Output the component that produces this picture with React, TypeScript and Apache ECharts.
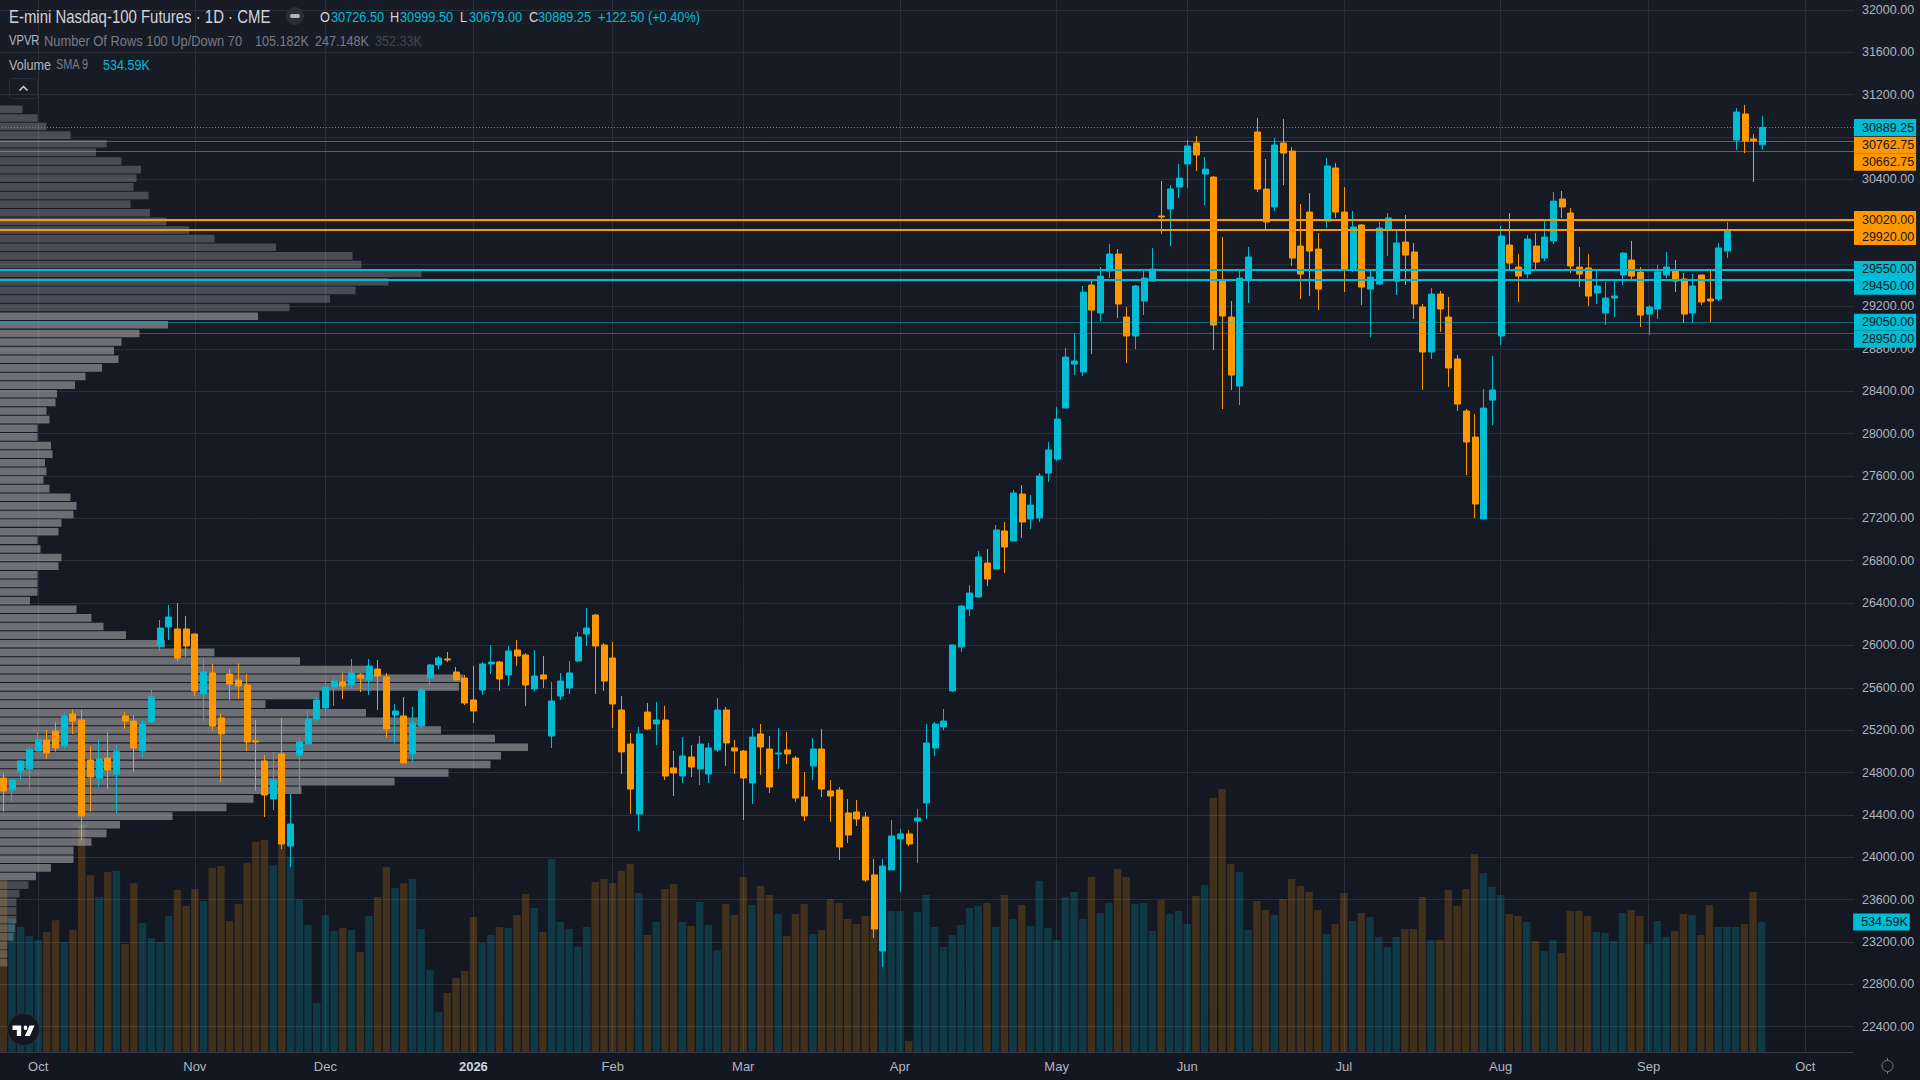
import * as echarts from 'echarts';
import { useEffect, useRef } from 'react';

const UP = '#00BCD4';
const DOWN = '#FF9800';
const TEXT = '#B2B5BE';
const GRID = '#2A2E39';
const FONT = '"Liberation Sans", sans-serif';
const AXIS_FONT_SIZE = 12.5;

const opens = [
  24748, 24635, 24814, 24833, 25003, 25107, 25192, 25050, 25352, 25296,
  24918, 24748, 24937, 24786, 25334, 25286, 25003, 25277, 25994, 26174,
  26155, 26155, 26108, 25541, 25740, 25315, 25730, 25673, 25626, 25098,
  24909, 24550, 24975, 24106, 24965, 25069, 25305, 25409, 25607, 25655,
  25626, 25721, 25673, 25777, 25702, 25343, 25334, 24975, 25239, 25692,
  25815, 25872, 25749, 25692, 25485, 25579, 25825, 25843, 25721, 25957,
  25910, 25589, 25721, 25145, 25522, 25598, 25853, 26108, 26287, 26004,
  25881, 25390, 25069, 24408, 25371, 25258, 25296, 24843, 24767, 24947,
  24833, 24786, 25013, 25390, 25032, 25003, 24701, 25164, 25022, 24975,
  25013, 24937, 24569, 24862, 25022, 24626, 24635, 24418, 24427, 24380,
  23833, 23115, 23880, 24172, 24220, 24342, 24512, 25031, 25230, 25570,
  25985, 26344, 26457, 26778, 26721, 27080, 26985, 27429, 27193, 27203,
  27627, 27759, 28241, 28656, 28581, 29402, 29138, 29534, 29695, 29100,
  28921, 29251, 29440, 30054, 30120, 30327, 30545, 30743, 30450, 30422,
  29440, 29100, 28449, 29459, 30847, 30308, 30139, 30743, 30667, 29770,
  30091, 29742, 30006, 30507, 30091, 29553, 29969, 29364, 29412, 29931,
  29440, 29808, 29714, 29194, 28770, 29317, 29100, 28704, 28213, 27967,
  27193, 28316, 28921, 29780, 29572, 29506, 29770, 29657, 29818, 30214,
  30082, 29572, 29563, 29327, 29138, 29279, 29497, 29638, 29525, 29128,
  29176, 29497, 29534, 29459, 29138, 29497, 29270, 29270, 29723, 30771,
  31017, 30781, 30726.5
];

const closes = [
  24625, 24729, 24909, 25019, 25113, 24984, 25031, 25334, 25286, 24390,
  24758, 24928, 24824, 24997, 25286, 25031, 25258, 25513, 26164, 26268,
  25881, 25994, 25570, 25749, 25239, 25164, 25636, 25617, 25088, 25088,
  24588, 24729, 24125, 24314, 25088, 25305, 25485, 25607, 25664, 25617,
  25740, 25692, 25806, 25711, 25211, 25381, 24890, 25268, 25579, 25815,
  25881, 25862, 25673, 25456, 25381, 25825, 25843, 25683, 25947, 25900,
  25626, 25711, 25683, 25475, 25664, 25740, 26079, 26164, 25994, 25664,
  25447, 24994, 24644, 25164, 25211, 25296, 24767, 24795, 24956, 24852,
  25069, 25032, 25390, 25079, 25003, 24748, 25135, 25041, 24663, 24984,
  24975, 24559, 24390, 25022, 24644, 24578, 24097, 24210, 24361, 23785,
  23323, 23917, 24201, 24220, 24125, 24371, 25079, 25258, 25286, 26004,
  26372, 26495, 26835, 26627, 27090, 26929, 27439, 27165, 27325, 27599,
  27845, 28137, 28722, 28685, 29336, 29166, 29487, 29695, 29223, 28921,
  29393, 29468, 29553, 30044, 30309, 30412, 30715, 30630, 30497, 29025,
  29110, 28552, 29468, 29667, 30308, 29997, 30724, 30648, 29657, 29506,
  29723, 29364, 30526, 30091, 29553, 29950, 29383, 29478, 29940, 30035,
  29799, 29685, 29223, 28770, 29317, 29176, 28619, 28279, 27920, 27335,
  28241, 28411, 29865, 29610, 29487, 29837, 29619, 29855, 30195, 30139,
  29582, 29506, 29298, 29393, 29279, 29298, 29704, 29487, 29119, 29194,
  29525, 29572, 29440, 29128, 29393, 29242, 29251, 29752, 29921, 31035,
  30762, 30762.5, 30889.25
];

const lows = [
  24430, 24525, 24729, 24635, 24997, 24928, 24997, 25031, 25164, 24163,
  24430, 24666, 24644, 24415, 25211, 24805, 24937, 25277, 25947, 26051,
  25853, 25891, 25522, 25286, 25201, 24710, 25485, 25494, 25003, 24625,
  24380, 24446, 24078, 23908, 24607, 25069, 25286, 25334, 25428, 25494,
  25589, 25560, 25532, 25390, 25126, 25075, 24890, 24909, 25211, 25617,
  25777, 25843, 25673, 25437, 25268, 25532, 25730, 25570, 25617, 25806,
  25428, 25570, 25598, 25032, 25485, 25541, 25843, 25994, 25541, 25570,
  25220, 24786, 24408, 24248, 25201, 25060, 24729, 24578, 24701, 24758,
  24682, 24701, 24994, 24862, 24786, 24352, 24503, 24777, 24607, 24833,
  24880, 24522, 24342, 24729, 24569, 24333, 23974, 24135, 24295, 23766,
  23238, 22964, 23880, 23672, 24106, 23946, 24361, 24956, 25201, 25560,
  25938, 26278, 26448, 26561, 26721, 26684, 26985, 27014, 27099, 27165,
  27542, 27741, 28241, 28552, 28543, 28751, 29062, 29468, 29091, 28666,
  28798, 29119, 29440, 29884, 29770, 30224, 30318, 30478, 30157, 28789,
  28231, 28411, 28269, 29232, 30280, 29921, 30101, 30346, 29582, 29270,
  29298, 29166, 29940, 30035, 29336, 29525, 29213, 28911, 29402, 29676,
  29308, 29402, 29081, 28411, 28704, 28959, 28439, 28213, 27608, 27202,
  27193, 28080, 28836, 29534, 29242, 29468, 29534, 29629, 29789, 30035,
  29515, 29383, 29204, 29223, 29025, 29100, 29402, 29440, 29006, 28930,
  29081, 29468, 29336, 29043, 29043, 29213, 29053, 29251, 29657, 30677,
  30648, 30375, 30679
];

const highs = [
  24792, 24745, 24912, 25038, 25179, 25201, 25274, 25368, 25400, 25390,
  25050, 25113, 25179, 25060, 25371, 25343, 25296, 25579, 26240, 26382,
  26400, 26278, 26108, 25881, 25825, 25359, 25777, 25834, 25730, 25296,
  24965, 24994, 25315, 24597, 25135, 25381, 25503, 25667, 25692, 25740,
  25872, 25740, 25872, 25862, 25740, 25447, 25513, 25419, 25607, 25825,
  25900, 25938, 25796, 25721, 25806, 25843, 26004, 25853, 25994, 26051,
  25928, 25957, 25900, 25655, 25740, 25853, 26127, 26353, 26297, 26023,
  26032, 25522, 25173, 25230, 25456, 25466, 25428, 25003, 25135, 25060,
  25145, 25079, 25503, 25419, 25107, 25013, 25220, 25258, 25145, 25220,
  25183, 24956, 24805, 25126, 25211, 24729, 24663, 24550, 24541, 24427,
  23984, 23984, 24352, 24267, 24257, 24456, 25258, 25277, 25400, 26004,
  26382, 26570, 26891, 26910, 27137, 27165, 27467, 27514, 27420, 27627,
  27920, 28250, 28807, 28949, 29393, 29459, 29572, 29789, 29742, 29194,
  29402, 29544, 29752, 30384, 30346, 30545, 30771, 30809, 30611, 30431,
  29855, 29251, 29544, 29761, 30979, 30592, 30790, 30969, 30705, 30167,
  30271, 29893, 30601, 30554, 30327, 30101, 29978, 29544, 29997, 30082,
  29931, 30063, 29799, 29223, 29374, 29346, 29289, 28741, 28232, 28184,
  28420, 28732, 29959, 30082, 29695, 29874, 29893, 30006, 30280, 30290,
  30129, 29761, 29695, 29544, 29431, 29440, 29714, 29818, 29572, 29213,
  29591, 29714, 29638, 29515, 29506, 29497, 29553, 29799, 29997, 31073,
  31102, 30828, 30999.5
];

// volume per session, in thousands of contracts
const volumes = [
  707, 549, 514, 477, 460, 493, 542, 452, 501, 933,
  727, 637, 740, 744, 444, 694, 530, 468, 452, 559,
  666, 600, 670, 620, 756, 764, 538, 608, 777, 863,
  871, 768, 994, 803, 629, 522, 201, 563, 497, 510,
  501, 411, 559, 637, 760, 674, 694, 711, 505, 337,
  164, 243, 304, 333, 555, 448, 481, 514, 510, 563,
  649, 592, 493, 793, 534, 506, 432, 514, 699, 711,
  695, 744, 773, 654, 481, 534, 670, 691, 534, 518,
  617, 522, 419, 608, 563, 719, 604, 682, 645, 567,
  477, 567, 608, 485, 501, 629, 612, 547, 526, 559,
  559, 570, 580, 580, 45, 575, 645, 514, 432, 481,
  522, 592, 600, 612, 514, 645, 547, 604, 518, 703,
  510, 460, 637, 658, 547, 719, 571, 612, 752, 719,
  608, 612, 497, 625, 567, 580, 526, 641, 686, 1044,
  1081, 773, 740, 501, 621, 584, 563, 629, 711, 682,
  658, 584, 485, 526, 654, 538, 571, 555, 473, 432,
  473, 506, 506, 637, 460, 460, 666, 600, 670, 814,
  736, 678, 645, 567, 559, 534, 456, 415, 460, 407,
  580, 580, 559, 493, 489, 456, 571, 584, 559, 445,
  538, 473, 497, 567, 563, 481, 604, 514, 514, 514,
  526, 658, 534
];

// volume profile, top row first, in thousands of contracts
const profileRows = [
  15, 25, 31, 47, 71, 64, 81, 94, 91, 89,
  99, 87, 100, 111, 126, 143, 184, 235, 241, 281,
  259, 237, 220, 193, 172, 112, 93, 81, 76, 79,
  68, 57, 50, 38, 37, 31, 33, 25, 25, 34,
  35, 30, 31, 29, 33, 47, 51, 49, 41, 39,
  25, 27, 41, 39, 25, 25, 25, 20, 51, 61,
  69, 84, 110, 143, 200, 245, 309, 306, 213, 177,
  244, 279, 294, 330, 352, 334, 327, 299, 263, 201,
  169, 151, 115, 80, 71, 61, 49, 49, 34, 24,
  19, 13, 11, 11, 11, 10, 9, 5, 5, 5
];
const valueAreaFirstRow = 24;
const valueAreaLastRow = 89;

const monthTicks: Record<number, string> = {
  4: 'Oct', 22: 'Nov', 37: 'Dec', 54: '2026', 70: 'Feb', 85: 'Mar', 103: 'Apr',
  121: 'May', 136: 'Jun', 154: 'Jul', 172: 'Aug', 189: 'Sep', 207: 'Oct'
};
const slotCount = 213;
const categories = Array.from({ length: slotCount }, (_, i) => monthTicks[i] ?? '');

const lastPrice = 30889.25;
const smaValue = 534.59;
const orangeThin = [30762.75, 30662.75];
const orangeThick = [30020, 29920];
const cyanThick = [29550, 29450];
const cyanThin = [29050, 28950];
// where TradingView pushed the stacked price tags to
const tagPrices: Record<number, number> = {
  30889.25: 30889.25, 30762.75: 30721, 30662.75: 30561, 30020: 30020, 29920: 29860,
  29550: 29550, 29450: 29390, 29050: 29050, 28950: 28890
};
// scale labels that sit fully under a price tag, plus the two off-page ends
const coveredTicks = [22000, 29600, 30000, 30800, 32400];

echarts.graphic.registerShape(
  'tvLogo',
  echarts.graphic.extendPath('M14 6H0v6h7v8h7V6ZM28 20h-8l7.5-14h8L28 20ZM24 9a3 3 0 1 1-6 0a3 3 0 0 1 6 0Z', {})
);

const upOrDown = (i: number) => (closes[i] >= opens[i] ? UP : DOWN);

const tagLabel = (text: string, background: string) => ({
  show: true,
  position: 'end',
  distance: 0,
  formatter: text,
  color: '#131722',
  fontFamily: FONT,
  fontSize: AXIS_FONT_SIZE,
  backgroundColor: background,
  padding: [2, 2, 1, 8],
  lineHeight: 14
});

const levelLine = (price: number, color: string, width: number, type: any) => ({
  yAxis: price,
  lineStyle: { color, width, type },
  label: { show: false }
});

const hiddenLine = { color: 'rgba(0,0,0,0)', width: 1, type: 'solid' };

const levelTag = (price: number, background: string) => ({
  yAxis: tagPrices[price],
  lineStyle: hiddenLine,
  label: tagLabel(price.toFixed(2), background)
});

const legendText = (x: number, y: number, text: string, fill: string, fontSize: number, scaleX: number) => ({
  type: 'text',
  x,
  y,
  scaleX,
  z: 50,
  silent: true,
  style: { text, fill, fontFamily: FONT, fontSize, textVerticalAlign: 'middle' }
});

export default function App() {
  const chartRef = useRef<HTMLDivElement>(null);

  useEffect(() => {
    if (!chartRef.current) return;
    document.body.style.margin = '0';
    document.body.style.background = '#131722';

    const chart = echarts.init(chartRef.current, null, { renderer: 'svg' });
    const isMonth = (_: number, value: string) => value !== '';

    chart.setOption({
      animation: false,
      backgroundColor: 'transparent',
      grid: [
        // volume, month lines and the time axis
        { left: -1.05, top: 0, width: 1854.2, height: 1052, outerBoundsMode: 'none' },
        // price scale runs 22000..32400, both ends outside the visible pane
        { left: -1.05, top: -32.5, width: 1855, height: 1101.6, outerBoundsMode: 'none' },
        // volume profile rows
        { left: 0, top: 105, width: 1854, height: 862, outerBoundsMode: 'none' }
      ],
      xAxis: [
        {
          type: 'category',
          gridIndex: 0,
          data: categories,
          axisLine: { lineStyle: { color: '#363A45' } },
          axisTick: { show: false },
          axisLabel: {
            interval: isMonth,
            margin: 8,
            color: TEXT,
            fontFamily: FONT,
            fontSize: 13,
            formatter: (value: string) => (value === '2026' ? '{y|2026}' : value),
            rich: { y: { fontWeight: 'bold', color: '#D1D4DC', fontFamily: FONT, fontSize: 13 } }
          },
          splitLine: { show: true, interval: isMonth, alignWithLabel: true, lineStyle: { color: GRID } }
        },
        { type: 'category', gridIndex: 1, data: categories, show: false },
        { type: 'value', gridIndex: 2, min: 0, max: 1236, show: false }
      ],
      yAxis: [
        { type: 'value', gridIndex: 0, min: 0, max: 4324, show: false },
        {
          type: 'value',
          gridIndex: 1,
          position: 'right',
          min: 22000,
          max: 32400,
          interval: 400,
          axisLine: { show: false },
          axisTick: { show: false },
          axisLabel: {
            margin: 8,
            color: TEXT,
            fontFamily: FONT,
            fontSize: AXIS_FONT_SIZE,
            formatter: (value: number) => (coveredTicks.includes(value) ? '' : value.toFixed(2))
          },
          splitLine: { show: true, showMinLine: false, showMaxLine: false, lineStyle: { color: GRID } }
        },
        {
          type: 'category',
          gridIndex: 2,
          inverse: true,
          data: profileRows.map((_, i) => String(i)),
          show: false
        }
      ],
      series: [
        {
          type: 'bar',
          name: 'Volume',
          xAxisIndex: 0,
          yAxisIndex: 0,
          z: 1,
          barWidth: 7.4,
          data: volumes,
          itemStyle: {
            color: (p: any) => (upOrDown(p.dataIndex) === UP ? 'rgba(0,188,212,0.2)' : 'rgba(255,152,0,0.19)')
          },
          markLine: {
            silent: true,
            symbol: ['none', 'none'],
            data: [
              {
                yAxis: smaValue,
                lineStyle: hiddenLine,
                label: tagLabel(`${smaValue}K`, UP)
              }
            ]
          }
        },
        {
          type: 'bar',
          name: 'VPVR',
          xAxisIndex: 2,
          yAxisIndex: 2,
          z: 2,
          barWidth: 7.6,
          data: profileRows,
          itemStyle: {
            color: (p: any) =>
              p.dataIndex >= valueAreaFirstRow && p.dataIndex <= valueAreaLastRow
                ? 'rgba(209,209,209,0.47)'
                : 'rgba(209,209,209,0.27)'
          }
        },
        {
          type: 'candlestick',
          name: 'E-mini Nasdaq-100 Futures',
          xAxisIndex: 1,
          yAxisIndex: 1,
          z: 3,
          barWidth: 6.5,
          data: opens.map((open, i) => [open, closes[i], lows[i], highs[i]]),
          itemStyle: { color: UP, color0: DOWN, borderColor: UP, borderColor0: DOWN, borderWidth: 1 },
          markLine: {
            silent: true,
            symbol: ['none', 'none'],
            data: [
              levelLine(lastPrice, UP, 1, [1, 2]),
              ...orangeThin.map((p) => levelLine(p, 'rgba(255,152,0,0.5)', 1, 'solid')),
              ...orangeThick.map((p) => levelLine(p, DOWN, 2, 'solid')),
              ...cyanThick.map((p) => levelLine(p, UP, 2, 'solid')),
              ...cyanThin.map((p) => levelLine(p, 'rgba(0,188,212,0.5)', 1, 'solid')),
              levelTag(lastPrice, UP),
              ...orangeThin.map((p) => levelTag(p, DOWN)),
              ...orangeThick.map((p) => levelTag(p, DOWN)),
              ...cyanThick.map((p) => levelTag(p, UP)),
              ...cyanThin.map((p) => levelTag(p, UP))
            ]
          }
        }
      ],
      graphic: [
        legendText(9, 17, 'E-mini Nasdaq-100 Futures · 1D · CME', '#D1D4DC', 18, 0.83),
        { type: 'circle', z: 50, shape: { cx: 295, cy: 16, r: 9 }, style: { fill: '#2A2E39' } },
        { type: 'rect', z: 51, shape: { x: 290, y: 14, width: 10, height: 4, r: 2 }, style: { fill: '#B2B5BE' } },
        legendText(320, 17, 'O', '#D1D4DC', 15, 0.85),
        legendText(331, 17, '30726.50', UP, 15, 0.85),
        legendText(390, 17, 'H', '#D1D4DC', 15, 0.85),
        legendText(400, 17, '30999.50', UP, 15, 0.85),
        legendText(460, 17, 'L', '#D1D4DC', 15, 0.85),
        legendText(469, 17, '30679.00', UP, 15, 0.85),
        legendText(529, 17, 'C', '#D1D4DC', 15, 0.85),
        legendText(538, 17, '30889.25', UP, 15, 0.85),
        legendText(598, 17, '+122.50 (+0.40%)', UP, 15, 0.85),
        legendText(9, 41, 'VPVR', '#B2B5BE', 14, 0.8),
        legendText(44, 41, 'Number Of Rows 100 Up/Down 70', '#787B86', 14, 0.92),
        legendText(255, 41, '105.182K', '#787B86', 14, 0.9),
        legendText(315, 41, '247.148K', '#787B86', 14, 0.9),
        legendText(375, 41, '352.33K', '#434651', 14, 0.9),
        legendText(9, 65, 'Volume', '#B2B5BE', 14, 0.9),
        legendText(56, 65, 'SMA 9', '#787B86', 14, 0.78),
        legendText(103, 65, '534.59K', UP, 14, 0.9),
        {
          type: 'rect',
          z: 50,
          shape: { x: 9.5, y: 78.5, width: 28, height: 20, r: 3 },
          style: { fill: 'transparent', stroke: '#2A2E39', lineWidth: 1 }
        },
        {
          type: 'polyline',
          z: 50,
          shape: { points: [[19.5, 90.5], [23.5, 86.5], [27.5, 90.5]] },
          style: { fill: 'none', stroke: '#D1D4DC', lineWidth: 1.5 }
        },
        {
          type: 'circle',
          z: 50,
          shape: { cx: 23.5, cy: 1029.5, r: 16 },
          style: { fill: '#131722', stroke: '#2A2E39', lineWidth: 1 }
        },
        { type: 'tvLogo', x: 12.5, y: 1021, scaleX: 0.62, scaleY: 0.75, z: 51, style: { fill: '#FFFFFF' } },
        {
          type: 'circle',
          z: 50,
          shape: { cx: 1887.5, cy: 1066, r: 5.5 },
          style: { fill: 'transparent', stroke: '#787B86', lineWidth: 1 }
        },
        {
          type: 'polyline',
          z: 50,
          shape: { points: [[1887.5, 1058], [1887.5, 1060.5]] },
          style: { fill: 'none', stroke: '#787B86', lineWidth: 1 }
        },
        {
          type: 'polyline',
          z: 50,
          shape: { points: [[1887.5, 1071.5], [1887.5, 1074]] },
          style: { fill: 'none', stroke: '#787B86', lineWidth: 1 }
        }
      ]
    });

    return () => {
      chart.dispose();
    };
  }, []);

  return (
    <div
      ref={chartRef}
      style={{
        position: 'absolute',
        left: 0,
        top: 0,
        width: 1920,
        height: 1080,
        background: 'linear-gradient(#181c27, #131722)'
      }}
    />
  );
}
